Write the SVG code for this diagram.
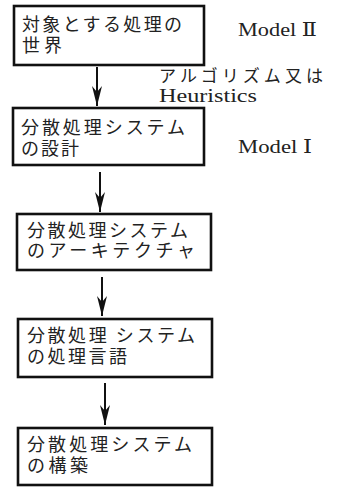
<svg xmlns="http://www.w3.org/2000/svg" width="338" height="487" viewBox="0 0 338 487">
<defs>
<style>
.box{fill:#fff;stroke:#111;stroke-width:2.6}
.jp{font-family:"Noto Sans CJK JP","Noto Sans",sans-serif;font-size:18px;fill:#222}
.en{font-family:"Liberation Serif","DejaVu Serif",serif;font-size:19px;fill:#222}
.jpl{font-family:"Noto Sans CJK JP","Noto Sans",sans-serif;font-size:17px;fill:#222}
.conn{stroke:#111;stroke-width:2;fill:none}
</style>
<marker id="ah" viewBox="0 0 20 10" refX="20" refY="5" markerWidth="20" markerHeight="10" markerUnits="userSpaceOnUse" orient="auto">
<path d="M0,0 L20,5 L0,10 L6,5 Z" fill="#111"/>
</marker>
</defs>
<rect width="338" height="487" fill="#fff"/>
<g id="connectors">
<line class="conn" x1="97" y1="67" x2="97" y2="106" marker-end="url(#ah)"/>
<line class="conn" x1="100" y1="172" x2="100" y2="212" marker-end="url(#ah)"/>
<line class="conn" x1="102" y1="277" x2="102" y2="316" marker-end="url(#ah)"/>
<line class="conn" x1="105" y1="383" x2="105" y2="425" marker-end="url(#ah)"/>
</g>
<g id="n1">
<rect class="box" x="14" y="6" width="190" height="59"/>
<text class="jp"><tspan x="22" y="31" textLength="160" lengthAdjust="spacing">対象とする処理の</tspan><tspan x="22" y="52" textLength="40" lengthAdjust="spacing">世界</tspan></text>
</g>
<g id="n2">
<rect class="box" x="13" y="108" width="191" height="57"/>
<text class="jp"><tspan x="21" y="134" textLength="164" lengthAdjust="spacing">分散処理システム</tspan><tspan x="21" y="155" textLength="58" lengthAdjust="spacing">の設計</tspan></text>
</g>
<g id="n3">
<rect class="box" x="17" y="214" width="194" height="56"/>
<text class="jp"><tspan x="27" y="237" textLength="161" lengthAdjust="spacing">分散処理システム</tspan><tspan x="27" y="257" textLength="168" lengthAdjust="spacing">のアーキテクチャ</tspan></text>
</g>
<g id="n4">
<rect class="box" x="18" y="319" width="194" height="58"/>
<text class="jp"><tspan x="27" y="342" textLength="168" lengthAdjust="spacing">分散処理 システム</tspan><tspan x="27" y="363" textLength="100" lengthAdjust="spacing">の処理言語</tspan></text>
</g>
<g id="n5">
<rect class="box" x="18" y="428" width="194" height="57"/>
<text class="jp"><tspan x="27" y="451" textLength="165" lengthAdjust="spacing">分散処理システム</tspan><tspan x="27" y="472" textLength="61" lengthAdjust="spacing">の構築</tspan></text>
</g>
<g id="labels">
<text class="en" x="238" y="36" textLength="79" lengthAdjust="spacingAndGlyphs">Model Ⅱ</text>
<text class="jpl"><tspan x="159" y="82" textLength="164" lengthAdjust="spacing">アルゴリズム又は</tspan><tspan x="159" y="102" class="en" textLength="98" lengthAdjust="spacingAndGlyphs">Heuristics</tspan></text>
<text class="en" x="238" y="153" textLength="74" lengthAdjust="spacingAndGlyphs">Model Ⅰ</text>
</g>
</svg>
